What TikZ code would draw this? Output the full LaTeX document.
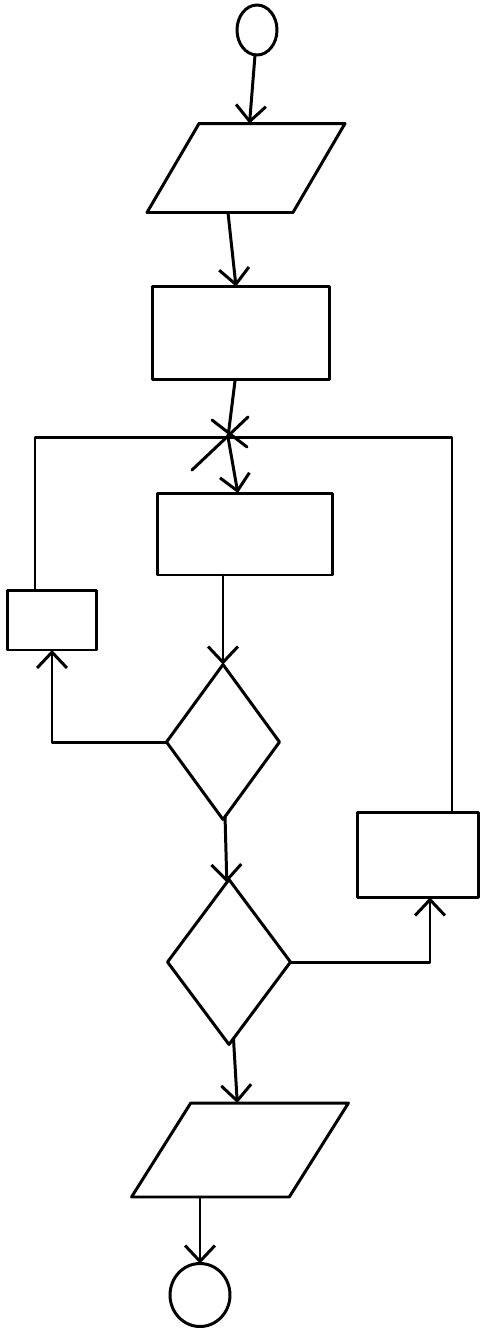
\documentclass[tikz,border=0pt]{standalone}
\usetikzlibrary{arrows.meta,shapes.geometric,positioning}
\tikzset{>={Straight Barb[length=9pt,width=17pt]},
  every node/.style={inner sep=0pt,outer sep=0pt},
  terminal/.style={draw,ellipse},
  iobox/.style 2 args={draw,trapezium,trapezium stretches=true,inner sep=1pt,
    trapezium left angle=#1,trapezium right angle=#2},
  procbox/.style={draw,rectangle},
  decision/.style={draw,diamond}}

\begin{document}
\begin{tikzpicture}[x=0.02cm,y=-0.02cm,line width=1.7pt,line join=round,line cap=round]
\useasboundingbox (0,0) rectangle (486,1333);
% main column
\node[terminal,minimum width=0.8cm,minimum height=1cm](start)at(257,30){};
\node[iobox={61}{119},minimum width=3.96cm,minimum height=1.78cm](inp)at(246,168){};
\node[procbox,minimum width=3.56cm,minimum height=1.86cm](init)at(241,333){};
\coordinate(mg)at(228,437);
\node[procbox,minimum width=3.52cm,minimum height=1.64cm](body)at(245,534){};
\node[decision,minimum width=2.26cm,minimum height=3.1cm](testa)at(223,742){};
\node[decision,minimum width=2.46cm,minimum height=3.3cm](testb)at(229,962){};
\node[iobox={59}{121},minimum width=4.34cm,minimum height=1.88cm](outp)at(240,1150){};
\node[terminal,minimum width=1.2cm,minimum height=1.26cm](stop)at(200,1295){};
% side boxes
\node[procbox,minimum width=1.78cm,minimum height=1.2cm](stepa)at(52,620){};
\node[procbox,minimum width=2.42cm,minimum height=1.7cm](stepb)at(418,855){};
\coordinate(lc)at(35,437);\coordinate(rc)at(452,437);
% connectors
\draw[->](start)--(inp);\draw[->](inp.south-|mg)--(init);
\draw(init)--(mg);\draw[->](mg)--(body);
\draw[->](body.south-|testa)--(testa);\draw[->](testa)--(testb);
\draw[->](testb)--(outp);\draw[->](outp.south-|stop)--(stop);
\draw[->](testa.west)-|(stepa);\draw(stepa.north-|lc)--(lc)--(mg);
\draw[->](testb.east)-|([xshift=0.24cm]stepb.south);\draw(stepb.north-|rc)--(rc)--(mg);
% junction mark
\draw(mg)+(-36,33)--+(20,-20);\draw(mg)+(-16,-17)--+(19,10);
\end{tikzpicture}
\end{document}
